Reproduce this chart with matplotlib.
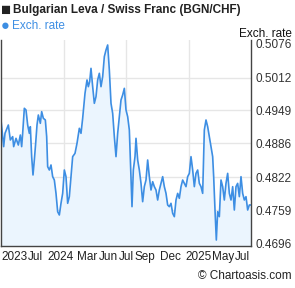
import matplotlib
matplotlib.use("Agg")
import matplotlib.pyplot as plt

# approximate day offsets across the two-year window
days = [0, 8, 12, 22, 28, 35, 38, 45, 52, 58, 62, 65, 70, 75, 80, 85, 88, 92, 96, 100,
        104, 108, 112, 118, 122, 127, 133, 137, 140, 145, 150, 155, 160, 165, 170, 175, 180, 185, 190, 195,
        200, 205, 210, 215, 222, 228, 235, 240, 245, 252, 258, 262, 266, 270, 275, 280, 285, 290, 295, 300,
        305, 310, 315, 320, 325, 330, 335, 340, 345, 350, 355, 360, 365, 370, 375, 380, 385, 390, 393, 397,
        402, 405, 410, 415, 420, 425, 430, 435, 440, 445, 450, 455, 460, 465, 470, 475, 480, 485, 490, 495,
        500, 505, 510, 515, 520, 525, 530, 535, 540, 545, 550, 555, 560, 565, 570, 575, 580, 585, 590, 595,
        600, 605, 610, 615, 620, 625, 630, 635, 638, 642, 646, 650, 655, 660, 665, 670, 675, 680, 685, 690,
        695, 700, 705, 710, 715, 720, 725, 730, 735, 740, 745, 750]

rate = [0.49309, 0.48800, 0.49054, 0.49213, 0.48927, 0.48991, 0.48800, 0.48959, 0.48831, 0.49022,
        0.48800, 0.49054, 0.49532, 0.49500, 0.49213, 0.49054, 0.49181, 0.48609, 0.48259, 0.48545,
        0.48863, 0.49213, 0.49404, 0.49245, 0.49468, 0.49341, 0.49309, 0.48991, 0.48418, 0.48354,
        0.48450, 0.48227, 0.48163, 0.47908, 0.47558, 0.47495, 0.47718, 0.47908, 0.48354, 0.48227,
        0.47718, 0.47845, 0.48227, 0.48609, 0.48672, 0.48863, 0.49150, 0.49054, 0.49341, 0.49818,
        0.50073, 0.49945, 0.50041, 0.50295, 0.49945, 0.49627, 0.49754, 0.50073, 0.50200, 0.49945,
        0.50136, 0.50518, 0.50645, 0.50741, 0.50264, 0.49627, 0.49436, 0.48991, 0.48609, 0.49054,
        0.49372, 0.49691, 0.49786, 0.49913, 0.49500, 0.49372, 0.49118, 0.48227, 0.47654, 0.48354,
        0.48609, 0.48959, 0.48545, 0.48354, 0.48099, 0.47749, 0.48036, 0.48163, 0.48545, 0.48227,
        0.47972, 0.48131, 0.48036, 0.47972, 0.47781, 0.47972, 0.48099, 0.48227, 0.48036, 0.47908,
        0.47686, 0.47654, 0.47718, 0.47527, 0.47463, 0.47781, 0.47908, 0.47813, 0.48036, 0.48163,
        0.48099, 0.48036, 0.48227, 0.48290, 0.48609, 0.48354, 0.48036, 0.48290, 0.48354, 0.48099,
        0.48036, 0.47908, 0.49118, 0.49309, 0.49181, 0.48991, 0.48800, 0.48609, 0.48227, 0.47590,
        0.47017, 0.47558, 0.47463, 0.48163, 0.48036, 0.47781, 0.48099, 0.48290, 0.47908, 0.47781,
        0.48036, 0.47590, 0.48036, 0.48099, 0.47845, 0.48227, 0.47908, 0.47781, 0.47845, 0.47590,
        0.47686, 0.47686]

yticks = [0.4696, 0.4759, 0.4822, 0.4886, 0.4949, 0.5012, 0.5076]
ytick_labels = ["0.4696", "0.4759", "0.4822", "0.4886", "0.4949", "0.5012", "0.5076"]
xlabels = ["2023", "Jul", "2024", "Mar", "Jun", "Jul", "Sep", "Dec", "2025", "May", "Jul"]
xlabel_pos = [0, 81, 138, 228, 294, 354, 402, 477, 552, 633, 702]

plt.rcParams['font.family'] = ['Liberation Sans', 'DejaVu Sans']
W, H = 295, 288
fig = plt.figure(figsize=(W / 100, H / 100), dpi=100)
ax = fig.add_axes([1 / W, 1 - 246 / H, 250 / W, 206 / H])

blue = "#3d8ee3"
ax.fill_between(days, rate, 0.46, color="#ebf5fe", lw=0)
ax.plot(days, rate, color=blue, lw=1.2)

ax.set_xlim(0, 750)
ax.set_ylim(0.46903, 0.50836)

for y in yticks[1:-1]:
    ax.axhline(y, color="#e6e6e6", lw=1, zorder=0)
for x in [188, 376, 563]:
    ax.axvline(x, color="#e6e6e6", lw=1, zorder=0)

ax.yaxis.tick_right()
ax.set_yticks(yticks)
ax.set_yticklabels(ytick_labels, fontsize=8.5, color="#333333")
ax.tick_params(axis="y", length=0, pad=3)
ax.set_xticks([])
ax.spines["top"].set_visible(False)
for s in ["left", "right", "bottom"]:
    ax.spines[s].set_color("#444444")
    ax.spines[s].set_linewidth(1)

for lab, p in zip(xlabels, xlabel_pos):
    ax.text(p, -0.025, lab, transform=ax.get_xaxis_transform(), ha="left", va="top",
            fontsize=8.5, color="#222222")

fig.text(1 / W, 1 - 10 / H, "\u25a0", fontsize=12, color="#222222", va="center", ha="left")
fig.text(13 / W, 1 - 10 / H, "Bulgarian Leva / Swiss Franc (BGN/CHF)", fontsize=8.5,
         fontweight="bold", color="#222222", va="center", ha="left")
fig.text(1 / W, 1 - 26 / H, "\u25cf", fontsize=10.5, color=blue, va="center", ha="left")
fig.text(12 / W, 1 - 26 / H, "Exch. rate", fontsize=8.5, color=blue, va="center", ha="left")
fig.text(292 / W, 1 - 34 / H, "Exch. rate", fontsize=8.5, color="#111111", va="center", ha="right")
fig.text(292 / W, 1 - 276 / H, "\u00a9 Chartoasis.com", fontsize=8.5, color="#222222",
         va="center", ha="right")

fig.savefig("out.png", dpi=100)
